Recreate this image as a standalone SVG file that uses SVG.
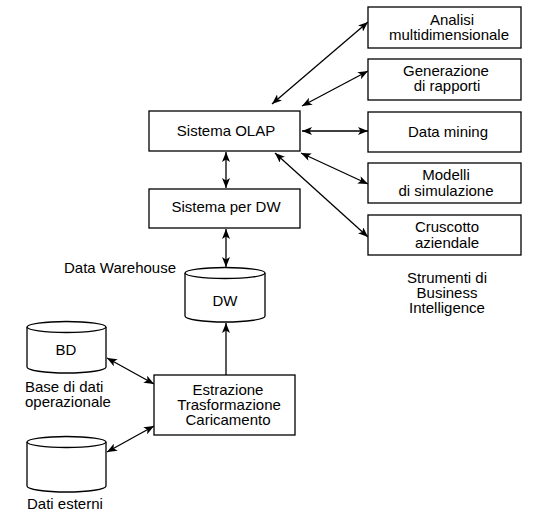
<svg xmlns="http://www.w3.org/2000/svg" width="538" height="526" viewBox="0 0 538 526">
<defs>
<marker id="ah" viewBox="0 0 10 8" refX="10" refY="4" markerWidth="10" markerHeight="8" markerUnits="userSpaceOnUse" orient="auto-start-reverse">
<path d="M0,0 L10,4 L0,8 L2.5,4 Z" fill="#000"/>
</marker>
</defs>
<style>
.box, path.cyl { fill: #fff; stroke: #000; stroke-width: 1.3; }
text { font-family: "Liberation Sans", Arial, sans-serif; font-size: 15px; fill: #000; }
.c { text-anchor: middle; }
#connectors line { stroke: #000; stroke-width: 1.3; }
</style>
<rect x="0" y="0" width="538" height="526" fill="#fff"/>

<g id="connectors">
<line x1="272" y1="104" x2="368" y2="22" marker-start="url(#ah)" marker-end="url(#ah)"/>
<line x1="302" y1="106" x2="368" y2="71" marker-start="url(#ah)" marker-end="url(#ah)"/>
<line x1="302" y1="131" x2="368" y2="131" marker-start="url(#ah)" marker-end="url(#ah)"/>
<line x1="301" y1="153" x2="368" y2="184" marker-start="url(#ah)" marker-end="url(#ah)"/>
<line x1="275" y1="153" x2="368" y2="237" marker-start="url(#ah)" marker-end="url(#ah)"/>
<line x1="226" y1="152" x2="226" y2="188" marker-start="url(#ah)" marker-end="url(#ah)"/>
<line x1="226" y1="229" x2="226" y2="267" marker-start="url(#ah)" marker-end="url(#ah)"/>
<line x1="226" y1="375" x2="226" y2="323" marker-end="url(#ah)"/>
<line x1="107" y1="358" x2="154" y2="384" marker-start="url(#ah)" marker-end="url(#ah)"/>
<line x1="107" y1="452" x2="154" y2="426" marker-start="url(#ah)" marker-end="url(#ah)"/>
</g>

<g id="analisi">
<rect class="box" x="368" y="7" width="153" height="41"/>
<text class="c" x="452" y="25">Analisi</text>
<text class="c" x="449" y="40">multidimensionale</text>
</g>
<g id="generazione">
<rect class="box" x="368" y="59" width="153" height="41"/>
<text class="c" x="446" y="76">Generazione</text>
<text class="c" x="447" y="91">di rapporti</text>
</g>
<g id="datamining">
<rect class="box" x="368" y="112" width="153" height="40"/>
<text class="c" x="448" y="137">Data mining</text>
</g>
<g id="modelli">
<rect class="box" x="368" y="163" width="153" height="40"/>
<text class="c" x="446" y="180">Modelli</text>
<text class="c" x="446" y="196">di simulazione</text>
</g>
<g id="cruscotto">
<rect class="box" x="368" y="215" width="153" height="40"/>
<text class="c" x="447" y="232">Cruscotto</text>
<text class="c" x="447" y="248">aziendale</text>
</g>
<g id="strumenti">
<text class="c" x="447" y="283">Strumenti di</text>
<text class="c" x="447" y="298">Business</text>
<text class="c" x="447" y="313">Intelligence</text>
</g>

<g id="olap">
<rect class="box" x="149" y="111" width="151" height="40"/>
<text class="c" x="226" y="136">Sistema OLAP</text>
</g>
<g id="sistemadw">
<rect class="box" x="149" y="189" width="151" height="39"/>
<text class="c" x="226" y="212">Sistema per DW</text>
</g>

<g id="dw">
<path class="cyl" d="M185,273 A40,5.5 0 0 1 265,273 L265,316 A40,6 0 0 1 185,316 Z"/>
<path class="cyl" d="M185,273 A40,5.5 0 0 0 265,273" fill="none"/>
<text class="c" x="225" y="306">DW</text>
<text x="64" y="273">Data Warehouse</text>
</g>

<g id="bd">
<path class="cyl" d="M27,327 A39.5,5.5 0 0 1 106,327 L106,367 A39.5,6 0 0 1 27,367 Z"/>
<path class="cyl" d="M27,327 A39.5,5.5 0 0 0 106,327" fill="none"/>
<text class="c" x="66" y="355">BD</text>
<text x="25" y="392">Base di dati</text>
<text x="25" y="407">operazionale</text>
</g>

<g id="esterni">
<path class="cyl" d="M27,442 A39.5,5.5 0 0 1 106,442 L106,486 A39.5,6 0 0 1 27,486 Z"/>
<path class="cyl" d="M27,442 A39.5,5.5 0 0 0 106,442" fill="none"/>
<text x="27" y="509">Dati esterni</text>
</g>

<g id="etc">
<rect class="box" x="154" y="375" width="141" height="60"/>
<text class="c" x="228" y="395">Estrazione</text>
<text class="c" x="229" y="410">Trasformazione</text>
<text class="c" x="228" y="425">Caricamento</text>
</g>
</svg>
